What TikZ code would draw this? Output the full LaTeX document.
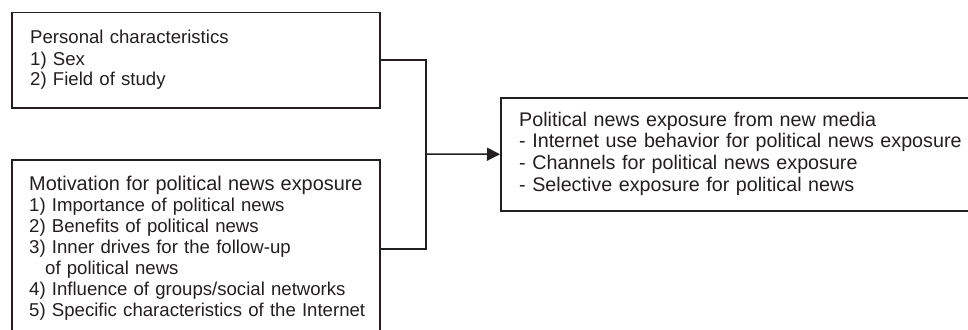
\documentclass[tikz,border=0pt]{standalone}
\usepackage{fontspec}
\setmainfont{Liberation Sans}
\usetikzlibrary{arrows.meta}
\definecolor{ink}{HTML}{231F20}
\begin{document}
\begin{tikzpicture}[x=1pt,y=-1pt,
  box/.style={draw=ink, line width=1.5pt, rectangle, inner sep=0pt, anchor=north west},
  txt/.style={anchor=base west, inner sep=0pt, text=ink, text width=460pt, align=left,
    font=\fontsize{18.6}{21}\selectfont},
  link/.style={draw=ink, line width=1.5pt}]
\useasboundingbox (0,0) rectangle (968,329);
\clip (0,0) rectangle (968,329);
\fill[white] (0,0) rectangle (968,329);
\node[box, minimum width=368pt, minimum height=95pt] (p) at (11,12) {};
\node[box, minimum width=368pt, minimum height=178pt] (m) at (11,159) {};
\node[box, minimum width=485pt, minimum height=113pt] (r) at (500,97) {};
\node[txt] (pt) at (30,44) {Personal characteristics\\1) Sex\\2) Field of study};
\node[txt] (mt) at (29,190) {{\fontsize{19.9}{21}\selectfont Motivation for political news exposure}\\1) Importance of political news\\2) Benefits of political news\\3) Inner drives for the follow-up\\\hspace*{16pt}of political news\\4) Influence of groups/social networks\\5) Specific characteristics of the Internet};
\node[txt, font=\fontsize{19.7}{21.7}\selectfont] (rt) at (519,126) {Political news exposure from new media\\- Internet use behavior for political news exposure\\- Channels for political news exposure\\- Selective exposure for political news};
\coordinate (j) at (426,154);
\draw[link] (p.east) -| (j);
\draw[link] (m.east) -| (j);
\draw[link, -{Triangle[length=13pt,width=13pt]}] (j) -- (r.west);
\end{tikzpicture}
\end{document}
